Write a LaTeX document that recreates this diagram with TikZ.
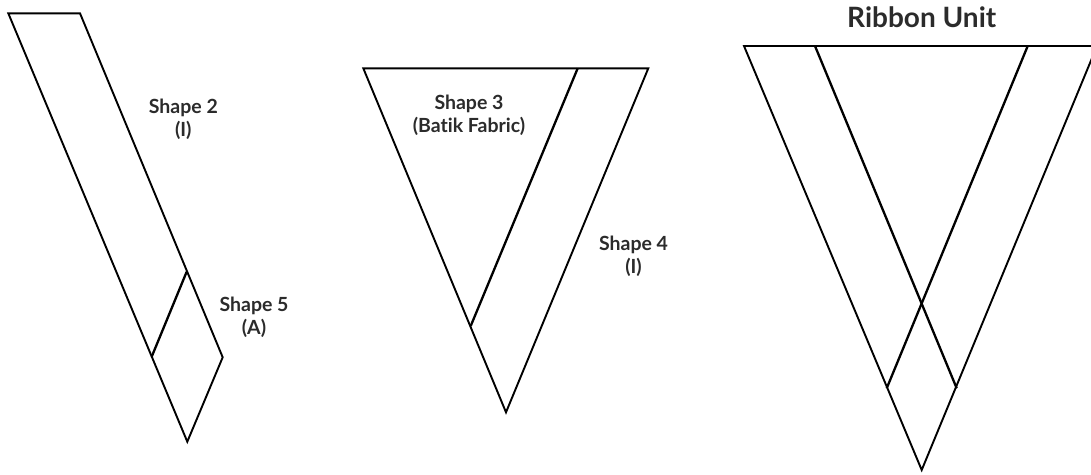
\documentclass[tikz,border=0pt]{standalone}
\usepackage{fontspec}
\setmainfont{Lato}[Ligatures={NoCommon}]
\definecolor{txt}{HTML}{2B2B2B}
\tikzset{
  outline/.style={draw=black, line width=1.9pt, line join=miter},
  inner/.style={draw=black, line width=2.3pt},
  lbl/.style={text=txt, align=center, inner sep=0pt, font=\bfseries\fontsize{19.5}{23}\selectfont},
  title/.style={text=txt, inner sep=0pt, font=\bfseries\fontsize{28}{30}\selectfont}
}
\begin{document}
\begin{tikzpicture}[x=1pt,y=-1pt]
\useasboundingbox (0,0) rectangle (1091,474);
\clip (0,0) rectangle (1091,474);
% left strip (Shape 2 + Shape 5)
\coordinate (a1) at (8.3,13.3);
\coordinate (a2) at (80,13.3);
\coordinate (a3) at (186.7,271.7);
\coordinate (a4) at (222.7,357.3);
\coordinate (a5) at (187.3,441.7);
\coordinate (a6) at (151.7,356.7);
\draw[outline] (a1) -- (a2) -- (a4) -- (a5) -- cycle;
\draw[inner] (a3) -- (a6);
% middle triangle (Shape 3 + Shape 4)
\coordinate (b1) at (363.3,68.3);
\coordinate (b2) at (648.3,68.3);
\coordinate (b3) at (506,412.3);
\coordinate (b4) at (577.7,68.3);
\coordinate (b5) at (470.7,326);
\draw[outline] (b1) -- (b2) -- (b3) -- cycle;
\draw[inner] (b4) -- (b5);
% right triangle (Ribbon Unit)
\coordinate (c1) at (744,46);
\coordinate (c2) at (815,46);
\coordinate (c3) at (1027.7,46);
\coordinate (c4) at (1097,46);
\coordinate (c5) at (921.7,470);
\coordinate (c6) at (886.7,388.3);
\coordinate (c7) at (956.7,388.3);
\draw[outline] (c1) -- (c4) -- (c5) -- cycle;
\draw[inner] (c2) -- (c7);
\draw[inner] (c3) -- (c6);
% labels
\node[lbl] (s2) at (183.3,119) {Shape 2\\(I)};
\node[lbl] (s5) at (254,317) {Shape 5\\(A)};
\node[lbl] (s3) at (469,115) {Shape 3\\(Batik Fabric)};
\node[lbl] (s4) at (633.5,256) {Shape 4\\(I)};
\node[title] (ru) at (921.7,17) {Ribbon Unit};
\end{tikzpicture}
\end{document}
